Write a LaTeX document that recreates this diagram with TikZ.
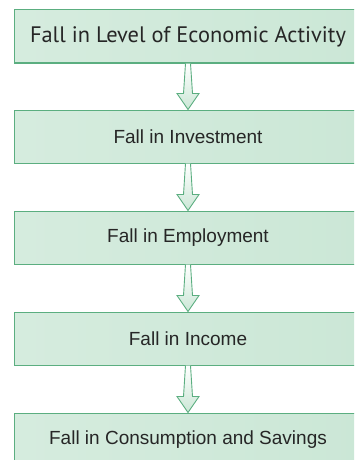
\documentclass[tikz,border=0pt]{standalone}
\usepackage{fontspec}
\setmainfont{Liberation Sans}
\newfontfamily\headfont{PT Sans}
\usetikzlibrary{calc}
\definecolor{boxline}{HTML}{5BAE80}
\definecolor{boxedge}{HTML}{CBE7D6}
\definecolor{boxmid}{HTML}{F1F8F4}
\definecolor{txt}{HTML}{262626}

\begin{document}
\begin{tikzpicture}[
  x=1pt,y=1pt,
  stepbox/.style={draw=boxline,line width=1pt,minimum width=348pt,minimum height=53pt,
    inner sep=0pt,left color=boxedge!80,middle color=boxmid,right color=boxedge,
    text=txt,font=\fontsize{19}{22}\selectfont},
  headbox/.style={stepbox,font=\headfont\fontsize{22.4}{26}\selectfont},
  hollowarr/.style={draw=boxline,line width=0.9pt,line join=miter,
    top color=white,bottom color=boxedge}
]
  \useasboundingbox (0,0) rectangle (354,-460);
  \clip (0,0) rectangle (354,-460);
  \node[headbox] (lvl)  at (188,-36.5)  {Fall in Level of Economic Activity};
  \node[stepbox] (inv)  at (188,-136.5) {Fall in Investment};
  \node[stepbox] (emp)  at (188,-237.5) {Fall in Employment};
  \node[stepbox] (inc)  at (188,-338.5) {Fall in Income};
  \node[stepbox] (cons) at (188,-439.5) {Fall in Consumption and Savings};
  % hollow arrows between the boxes
  \foreach \a/\b in {lvl/inv,inv/emp,emp/inc,inc/cons}{
    \draw[hollowarr] ($(\a.south)+(-2.5,0)$) -- ($(\b.north)+(-4.5,16)$)
      -- ($(\b.north)+(-11,16)$) -- (\b.north) -- ($(\b.north)+(11,16)$)
      -- ($(\b.north)+(4.5,16)$) -- ($(\a.south)+(2.5,0)$);
  }
\end{tikzpicture}
\end{document}
